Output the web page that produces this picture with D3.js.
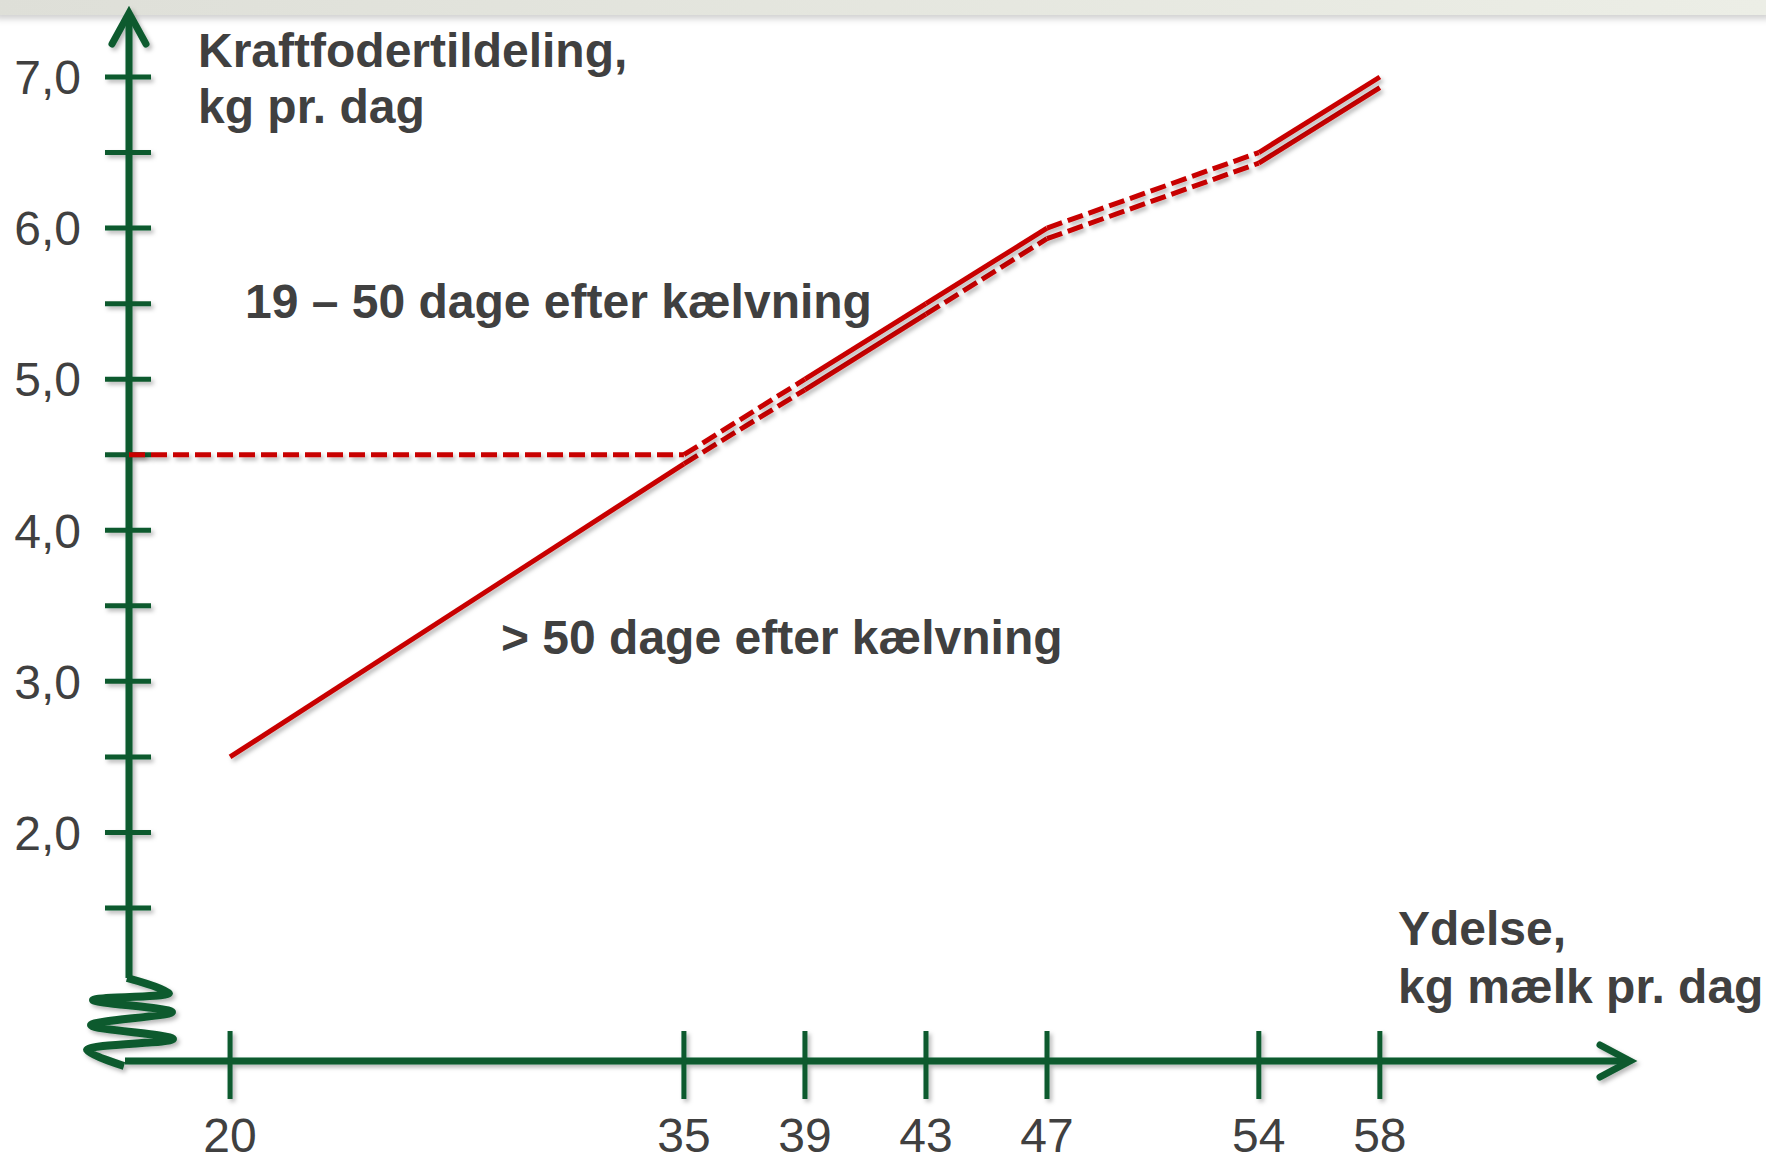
<!DOCTYPE html>
<html>
<head>
<meta charset="utf-8">
<script src="https://cdn.jsdelivr.net/npm/d3@7"></script>
<style>
  html, body { margin: 0; padding: 0; background: #ffffff; }
  svg { display: block; }
  text { font-family: "Liberation Sans", Arial, sans-serif; fill: #404040; }
</style>
</head>
<body>
<script>
// ---------------- DATA ----------------
const xOrigin = 16.66;                       // milk value where the y axis sits
const xEnd = 66.4;                           // milk value at the x-axis arrow tip
const xTickValues = [20, 35, 39, 43, 47, 54, 58];
const yLabelValues = [2, 3, 4, 5, 6, 7];
const yMinorValues = [1.5, 2.5, 3.5, 4.5, 5.5, 6.5];

// 19 – 50 dage efter kælvning
const milkEarly = [xOrigin, 35, 39, 43, 47, 54, 58];
const feedEarly = [4.5, 4.5, 5.0, 5.5, 6.0, 6.5, 7.0];
const styleEarly = ["dash", "dash", "solid", "solid", "dash", "solid"];

// > 50 dage efter kælvning
const milkLate = [20, 35, 39, 43, 47, 54, 58];
const feedLate = [2.5, 4.44, 4.93, 5.43, 5.93, 6.43, 6.93];
const styleLate = ["solid", "dash", "solid", "dash", "dash", "solid"];

const yTitle = ["Kraftfodertildeling,", "kg pr. dag"];
const xTitle = ["Ydelse,", "kg mælk pr. dag"];
const labelEarly = "19 – 50 dage efter kælvning";
const labelLate = "> 50 dage efter kælvning";

// ---------------- LAYOUT ----------------
const W = 1766, H = 1162;
const GREEN = "#0b5a2e", RED = "#c80000";
const axisX = 129, axisY = 1061;

const x = d3.scaleLinear().domain([xOrigin, xEnd]).range([axisX, 1634]);
const y = d3.scaleLinear().domain([1.5, 7]).range([908, 77]);

const locale = d3.formatLocale({decimal: ",", thousands: ".", grouping: [3], currency: ["", " kr"]});
const fmt = locale.format(".1f");

const svg = d3.select("body").append("svg").attr("width", W).attr("height", H);
const defs = svg.append("defs");
const f = defs.append("filter").attr("id", "shadow").attr("x", "-10%").attr("y", "-10%").attr("width", "130%").attr("height", "130%");
f.append("feDropShadow").attr("dx", 2.5).attr("dy", 3).attr("stdDeviation", 2)
  .attr("flood-color", "#000").attr("flood-opacity", 0.28);
const g1 = defs.append("linearGradient").attr("id", "band").attr("x1", 0).attr("x2", 1);
g1.append("stop").attr("offset", 0).attr("stop-color", "#dedfd8");
g1.append("stop").attr("offset", 1).attr("stop-color", "#eceee6");
const f2 = defs.append("filter").attr("id", "bandShadow").attr("x", 0).attr("y", 0).attr("width", 1).attr("height", 3);
f2.append("feDropShadow").attr("dx", 0).attr("dy", 4).attr("stdDeviation", 3)
  .attr("flood-color", "#000").attr("flood-opacity", 0.18);

// top band
svg.append("rect").attr("x", -5).attr("y", -5).attr("width", W + 10).attr("height", 20)
  .attr("fill", "url(#band)").attr("filter", "url(#bandShadow)");

const axes = svg.append("g").attr("filter", "url(#shadow)")
  .attr("stroke", GREEN).attr("fill", "none");

// y axis
axes.append("line").attr("x1", axisX).attr("x2", axisX).attr("y1", 978).attr("y2", 14)
  .attr("stroke-width", 7);
axes.append("path").attr("d", d3.line()([[axisX - 17, 44], [axisX, 13], [axisX + 17, 44]]))
  .attr("stroke-width", 7).attr("stroke-linecap", "round").attr("stroke-linejoin", "miter");

// y ticks (major + minor)
axes.selectAll(".yt").data(yLabelValues.concat(yMinorValues)).join("line")
  .attr("x1", axisX - 24).attr("x2", axisX + 22)
  .attr("y1", d => y(d)).attr("y2", d => y(d))
  .attr("stroke-width", 5);

// axis break zigzag
const zig = [[axisX - 2, 978], [axisX + 40, 993], [axisX - 36, 1000], [axisX + 43, 1012],
             [axisX - 38, 1025], [axisX + 44, 1039], [axisX - 42, 1050], [axisX - 5, 1066]];
axes.append("path").attr("d", d3.line().curve(d3.curveCatmullRom.alpha(0.5))(zig))
  .attr("stroke-width", 8).attr("stroke-linecap", "butt").attr("stroke-linejoin", "round");

// x axis
axes.append("line").attr("x1", 125).attr("x2", 1630).attr("y1", axisY).attr("y2", axisY)
  .attr("stroke-width", 7);
axes.append("path").attr("d", d3.line()([[1600, axisY - 16], [1630, axisY], [1600, axisY + 16]]))
  .attr("stroke-width", 7).attr("stroke-linecap", "round").attr("stroke-linejoin", "miter");
axes.selectAll(".xt").data(xTickValues).join("line")
  .attr("x1", d => x(d)).attr("x2", d => x(d))
  .attr("y1", axisY - 30).attr("y2", axisY + 38)
  .attr("stroke-width", 5);

// tick labels
svg.selectAll(".yl").data(yLabelValues).join("text")
  .attr("x", 81).attr("y", d => y(d)).attr("dy", "0.36em")
  .attr("text-anchor", "end").attr("font-size", 48).text(d => fmt(d));
svg.selectAll(".xl").data(xTickValues).join("text")
  .attr("x", d => x(d)).attr("y", 1152)
  .attr("text-anchor", "middle").attr("font-size", 48).text(d => d);

// titles
const tY = svg.append("text").attr("font-size", 48).attr("font-weight", "bold");
yTitle.forEach((t, i) => tY.append("tspan").attr("x", 198).attr("y", 67 + i * 56).text(t));
const tX = svg.append("text").attr("font-size", 48).attr("font-weight", "bold");
xTitle.forEach((t, i) => tX.append("tspan").attr("x", 1398).attr("y", 945 + i * 58).text(t));

svg.append("text").attr("x", 245).attr("y", 318).attr("font-size", 48).attr("font-weight", "bold").text(labelEarly);
svg.append("text").attr("x", 501).attr("y", 654).attr("font-size", 48).attr("font-weight", "bold").text(labelLate);

// feed lines
function drawSeries(milk, feed, styles) {
  const pts = milk.map((m, i) => [x(m), y(feed[i])]);
  const g = svg.append("g").attr("filter", "url(#shadow)");
  styles.forEach((s, i) => {
    g.append("path").attr("d", d3.line()([pts[i], pts[i + 1]]))
      .attr("fill", "none").attr("stroke", RED).attr("stroke-width", 5)
      .attr("stroke-dasharray", s === "dash" ? "16,6" : null)
      .attr("stroke-linecap", "butt");
  });
}
drawSeries(milkLate, feedLate, styleLate);
drawSeries(milkEarly, feedEarly, styleEarly);
</script>
</body>
</html>
